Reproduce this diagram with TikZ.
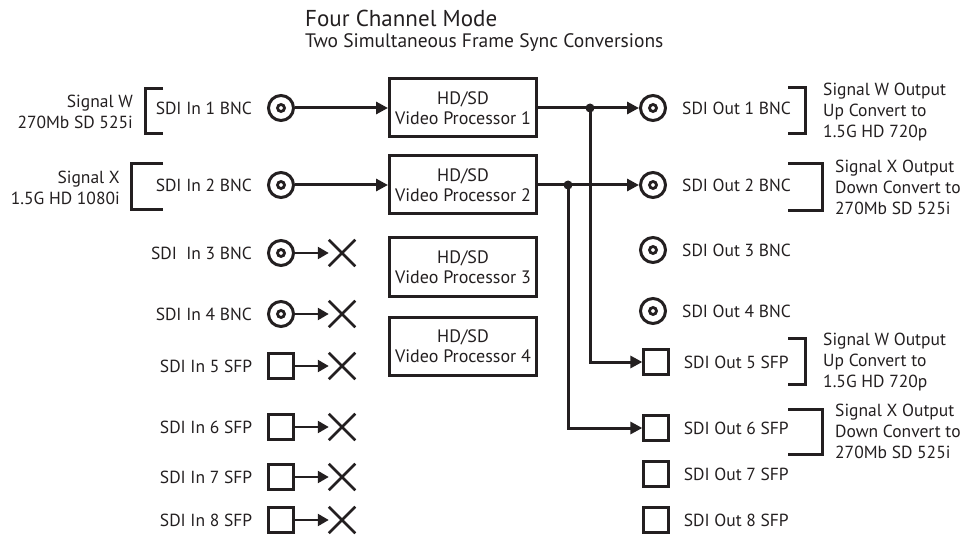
\documentclass[tikz,border=0pt]{standalone}
\usepackage{fontspec}
\setmainfont{PT Sans}
\usetikzlibrary{arrows.meta,positioning,shapes.misc}
\definecolor{ink}{HTML}{231F20}
\begin{document}
\begin{tikzpicture}[x=1pt,y=-1pt,color=ink,
  lbl/.style={inner sep=0pt,font=\fontsize{17.5}{20}\selectfont},
  note/.style={inner sep=0pt,font=\fontsize{17.5}{21}\selectfont},
  bnc/.style={circle,draw,line width=3pt,minimum size=25pt,inner sep=0pt},
  sfp/.style={rectangle,draw,line width=2.8pt,minimum size=24.5pt,inner sep=0pt},
  proc/.style={rectangle,draw,line width=3pt,minimum width=147pt,minimum height=58pt,
    align=center,inner sep=0pt,font=\fontsize{18}{20}\selectfont},
  dead/.style={cross out,draw,line width=2.5pt,minimum size=24pt,inner sep=0pt},
  sig/.style={line width=3pt,-{Triangle[length=12pt,width=12pt]}},
  sigthin/.style={line width=2.5pt,-{Triangle[length=11pt,width=12pt]}},
  wire/.style={line width=3pt},
  brk/.style={line width=3pt}]
\useasboundingbox (0,0) rectangle (971,537);
% titles
\node[anchor=west,inner sep=0pt,font=\fontsize{23}{26}\selectfont] (title) at (305,18) {Four Channel Mode};
\node[anchor=west,inner sep=0pt,font=\fontsize{19.5}{22}\selectfont] (subtitle) at (305,43) {Two Simultaneous Frame Sync Conversions};
% inputs
\node[bnc] (in1) at (281,108) {};
\node[bnc] (in2) at (281,185) {};
\node[bnc] (in3) at (281,253) {};
\node[bnc] (in4) at (281,314) {};
\node[sfp] (in5) at (281,366) {};
\node[sfp] (in6) at (281,427) {};
\node[sfp] (in7) at (281,477) {};
\node[sfp] (in8) at (281,520) {};
\draw[line width=2.8pt] (in1.center) circle[radius=3.5pt];
\draw[line width=2.8pt] (in2.center) circle[radius=3.5pt];
\draw[line width=2.8pt] (in3.center) circle[radius=3.5pt];
\draw[line width=2.8pt] (in4.center) circle[radius=3.5pt];
\node[lbl,left=15pt of in1] (l1) {SDI In 1 BNC};
\node[lbl,left=15pt of in2] (l2) {SDI In 2 BNC};
\node[lbl,left=15pt of in3] (l3) {SDI\ \ In 3 BNC};
\node[lbl,left=15pt of in4] (l4) {SDI In 4 BNC};
\node[lbl,left=15pt of in5] (l5) {SDI In 5 SFP};
\node[lbl,left=15pt of in6] (l6) {SDI In 6 SFP};
\node[lbl,left=15pt of in7] (l7) {SDI In 7 SFP};
\node[lbl,left=15pt of in8] (l8) {SDI In 8 SFP};
% unused inputs
\node[dead] (x3) at (342,253) {};
\node[dead] (x4) at (342,314) {};
\node[dead] (x5) at (342,366) {};
\node[dead] (x6) at (342,427) {};
\node[dead] (x7) at (342,477) {};
\node[dead] (x8) at (342,520) {};
\draw[sigthin] (in3) -- (x3);
\draw[sigthin] (in4) -- (x4);
\draw[sigthin] (in5) -- (x5);
\draw[sigthin] (in6) -- (x6);
\draw[sigthin] (in7) -- (x7);
\draw[sigthin] (in8) -- (x8);
% input signals
\draw[brk] (163,89)--(145,89)--(145,134)--(163,134);
\draw[brk] (163,164)--(131,164)--(131,210)--(163,210);
\node[note,anchor=east,align=right] (sigw) at (133,112) {Signal W\\270Mb SD 525i};
\node[note,anchor=east,align=right] (sigx) at (120,188) {Signal X\\1.5G HD 1080i};
% processors
\node[proc] (p1) at (463,108) {HD/SD\\Video Processor 1};
\node[proc] (p2) at (463,185) {HD/SD\\Video Processor 2};
\node[proc] (p3) at (463,267) {HD/SD\\Video Processor 3};
\node[proc] (p4) at (463,346) {HD/SD\\Video Processor 4};
\draw[sig] (in1) -- (p1);
\draw[sig] (in2) -- (p2);
% outputs
\node[bnc] (out1) at (653,108) {};
\node[bnc] (out2) at (653,185) {};
\node[bnc] (out3) at (653,250) {};
\node[bnc] (out4) at (653,311) {};
\node[sfp] (out5) at (656,362) {};
\node[sfp] (out6) at (656,428) {};
\node[sfp] (out7) at (656,474) {};
\node[sfp] (out8) at (656,520) {};
\draw[line width=2.8pt] (out1.center) circle[radius=3.5pt];
\draw[line width=2.8pt] (out2.center) circle[radius=3.5pt];
\draw[line width=2.8pt] (out3.center) circle[radius=3.5pt];
\draw[line width=2.8pt] (out4.center) circle[radius=3.5pt];
\node[lbl,right=15pt of out1] (o1) {SDI Out 1 BNC};
\node[lbl,right=15pt of out2] (o2) {SDI Out 2 BNC};
\node[lbl,right=15pt of out3] (o3) {SDI Out 3 BNC};
\node[lbl,right=15pt of out4] (o4) {SDI Out 4 BNC};
\node[lbl,right=14pt of out5] (o5) {SDI Out 5 SFP};
\node[lbl,right=14pt of out6] (o6) {SDI Out 6 SFP};
\node[lbl,right=14pt of out7] (o7) {SDI Out 7 SFP};
\node[lbl,right=14pt of out8] (o8) {SDI Out 8 SFP};
% routing
\coordinate (j1) at (590,108);
\coordinate (j2) at (568,185);
\draw[wire] (p1) -- (j1);
\draw[wire] (p2) -- (j2);
\draw[sig] (j1) -- (out1);
\draw[sig] (j2) -- (out2);
\draw[sig] (j1) |- (out5);
\draw[sig] (j2) |- (out6);
\fill (j1) circle[radius=4.5pt];
\fill (j2) circle[radius=4.5pt];
% output signals
\draw[brk] (788,88)--(805,88)--(805,134)--(788,134);
\draw[brk] (788,164)--(822,164)--(822,211)--(788,211);
\draw[brk] (788,338)--(805,338)--(805,384)--(788,384);
\draw[brk] (788,409)--(822,409)--(822,454)--(788,454);
\node[note,anchor=west,align=left] (ow1) at (823,112) {Signal W Output\\Up Convert to\\1.5G HD 720p};
\node[note,anchor=west,align=left] (ox1) at (835,187) {Signal X Output\\Down Convert to\\270Mb SD 525i};
\node[note,anchor=west,align=left] (ow2) at (823,362) {Signal W Output\\Up Convert to\\1.5G HD 720p};
\node[note,anchor=west,align=left] (ox2) at (835,431) {Signal X Output\\Down Convert to\\270Mb SD 525i};
\end{tikzpicture}
\end{document}
